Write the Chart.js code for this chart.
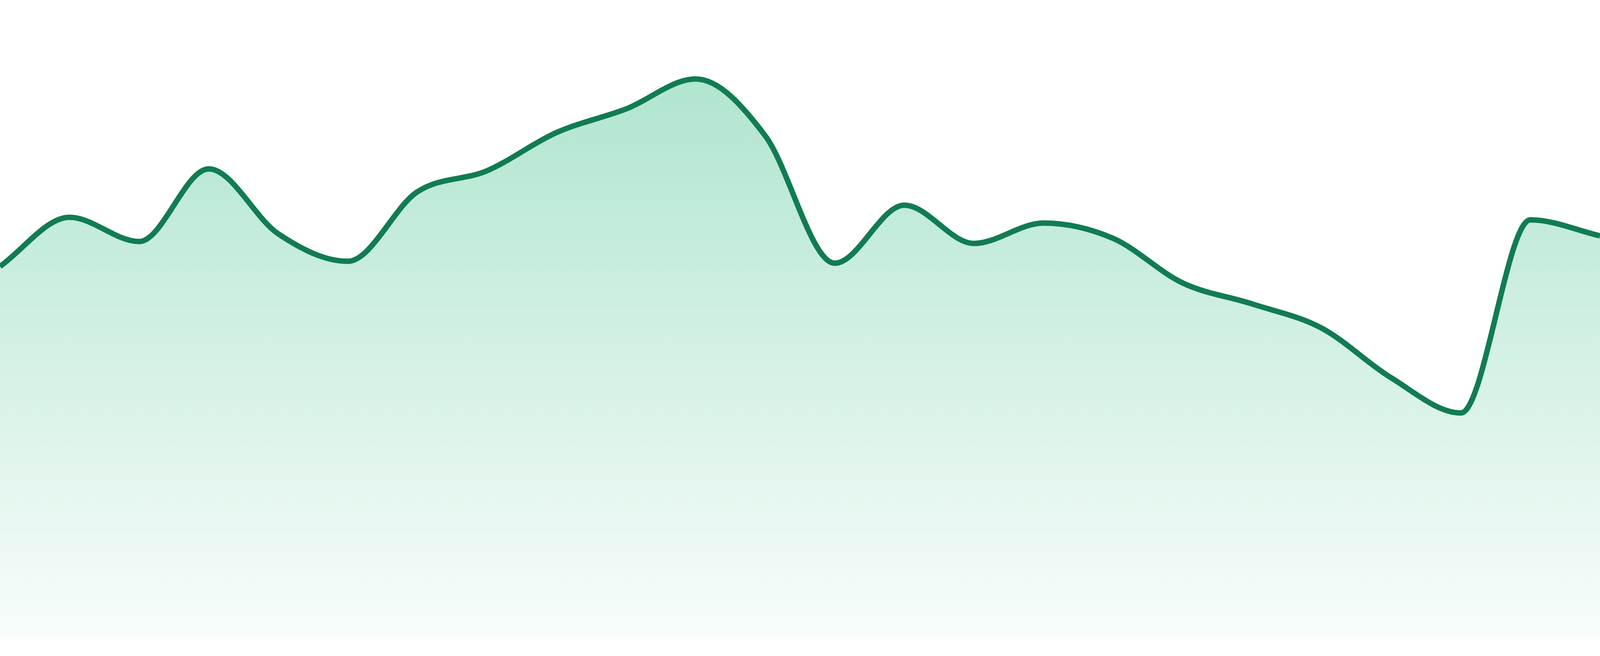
<!DOCTYPE html>
<html>
<head>
<meta charset="utf-8">
<script src="https://cdn.jsdelivr.net/npm/chart.js@4.4.1/dist/chart.umd.min.js"></script>
<style>
  html, body { margin: 0; padding: 0; background: #ffffff; overflow: hidden; }
  #wrap { width: 100vw; height: 100vh; position: relative; }
</style>
</head>
<body>
<div id="wrap"><canvas id="chart-trend-area"></canvas></div>
<script>
// 24 hourly readings, no axes shown in the picture
const hours = ['00:00', '01:00', '02:00', '03:00', '04:00', '05:00', '06:00', '07:00',
               '08:00', '09:00', '10:00', '11:00', '12:00', '13:00', '14:00', '15:00',
               '16:00', '17:00', '18:00', '19:00', '20:00', '21:00', '22:00', '23:00'];
const trendValues = [58.2, 65.9, 62.1, 73.5, 63.3, 59.0, 69.9, 73.2,
                     79.2, 82.9, 87.6, 78.7, 58.7, 67.8, 61.8, 65.0,
                     62.6, 55.6, 52.3, 48.5, 40.7, 35.2, 65.5, 63.0];
const yMin = 0;
const yMax = 100;

// reference frame is 1680 high, bottom 48px left blank under the fill
const sy = window.innerHeight / 1680;

const ctx_trend = document.getElementById('chart-trend-area');

new Chart(ctx_trend, {
  type: 'line',
  data: {
    labels: hours,
    datasets: [
      {
        label: 'Trend',
        data: trendValues,
        borderColor: '#117c52',
        borderWidth: 14 * sy,
        pointRadius: 0,
        pointHoverRadius: 0,
        cubicInterpolationMode: 'monotone',
        fill: 'start',
        backgroundColor: function (context) {
          const chart = context.chart;
          const area = chart.chartArea;
          if (!area) return 'rgba(32, 182, 120, 0.2)';
          const grad = chart.ctx.createLinearGradient(0, area.top, 0, area.bottom);
          grad.addColorStop(0, 'rgba(32, 182, 120, 0.40)');
          grad.addColorStop(1, 'rgba(32, 182, 120, 0.03)');
          return grad;
        }
      }
    ]
  },
  options: {
    responsive: true,
    maintainAspectRatio: false,
    animation: false,
    layout: { padding: { top: 0, right: 0, bottom: Math.round(48 * sy), left: 0 } },
    plugins: {
      legend: { display: false },
      tooltip: { enabled: false }
    },
    scales: {
      x: { display: false, offset: false },
      y: { display: false, min: yMin, max: yMax }
    }
  }
});
</script>
</body>
</html>
